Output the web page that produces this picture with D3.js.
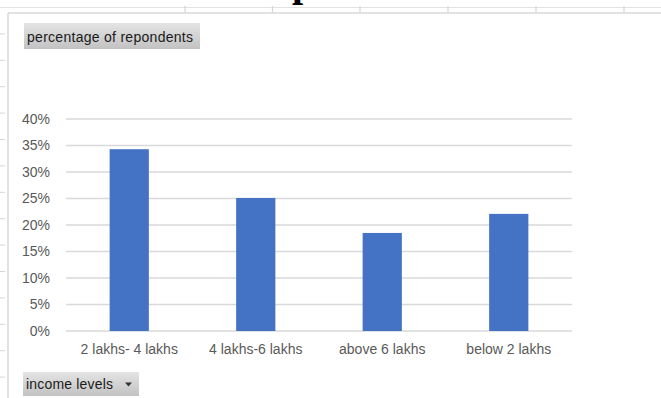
<!DOCTYPE html>
<html><head><meta charset="utf-8">
<script src="https://cdn.jsdelivr.net/npm/d3@7"></script>
<style>body{margin:0;background:#fff;overflow:hidden}svg{display:block}</style>
</head><body>
<script>
const categories = ["2 lakhs- 4 lakhs", "4 lakhs-6 lakhs", "above 6 lakhs", "below 2 lakhs"];
const values = [0.343, 0.251, 0.185, 0.221];
const yTicks = [0, 0.05, 0.10, 0.15, 0.20, 0.25, 0.30, 0.35, 0.40];
const valueFieldLabel = "percentage  of  repondents";
const axisFieldLabel = "income levels";

const W = 661, H = 398;
const svg = d3.select("body").append("svg").attr("width", W).attr("height", H);

const defs = svg.append("defs");
const g1 = defs.append("linearGradient").attr("id", "btn").attr("x1", 0).attr("x2", 0).attr("y1", 0).attr("y2", 1);
g1.append("stop").attr("offset", "0%").attr("stop-color", "#e4e4e4");
g1.append("stop").attr("offset", "100%").attr("stop-color", "#c2c2c2");

// spreadsheet background lines
svg.append("line").attr("x1", 0).attr("x2", W).attr("y1", 7.5).attr("y2", 7.5).attr("stroke", "#e2e2e2").attr("stroke-width", 1.2);
[185, 272.5, 360, 448, 536, 624].forEach(x => {
  svg.append("line").attr("x1", x).attr("x2", x).attr("y1", 6).attr("y2", 13).attr("stroke", "#d6d6d6").attr("stroke-width", 1.2);
});
d3.range(1, 15).forEach(k => {
  const y = 7.5 + k * 26.4;
  if (y > 13) svg.append("line").attr("x1", 0).attr("x2", 5).attr("y1", y).attr("y2", y).attr("stroke", "#d6d6d6").attr("stroke-width", 1);
});
// chart frame
svg.append("line").attr("x1", 8).attr("x2", W).attr("y1", 13).attr("y2", 13).attr("stroke", "#d9d9d9").attr("stroke-width", 1.5);
svg.append("line").attr("x1", 8).attr("x2", 8).attr("y1", 13).attr("y2", H).attr("stroke", "#d9d9d9").attr("stroke-width", 1.5);

// partially visible title above the chart
svg.append("text").attr("x", 292).attr("y", -4)
  .attr("font-family", "Liberation Serif, serif").attr("font-weight", "bold").attr("font-size", 40)
  .attr("fill", "#000").text("p");

// scales
const x = d3.scaleBand().domain(categories).range([66, 572]).padding(0);
const y = d3.scaleLinear().domain([0, 0.4]).range([331, 119]);
const barW = x.bandwidth() * 0.31;

// gridlines
svg.append("g").selectAll("line").data(yTicks).join("line")
  .attr("x1", 66).attr("x2", 572)
  .attr("y1", d => y(d)).attr("y2", d => y(d))
  .attr("stroke", "#d9d9d9").attr("stroke-width", 1.4);

// y axis labels
const yAxis = d3.axisLeft(y).tickValues(yTicks).tickFormat(d3.format(".0%")).tickSize(0).tickPadding(0);
const ya = svg.append("g").attr("transform", "translate(50,0)").call(yAxis);
ya.select(".domain").remove();
ya.selectAll("text").attr("font-family", "Liberation Sans, Arial, sans-serif").attr("font-size", 14).attr("fill", "#595959");

// bars
svg.append("g").selectAll("rect").data(values).join("rect")
  .attr("x", (d, i) => x(categories[i]) + x.bandwidth() / 2 - barW / 2)
  .attr("width", barW)
  .attr("y", d => y(d))
  .attr("height", d => y(0) - y(d))
  .attr("fill", "#4472c4");

// x axis labels
const xAxis = d3.axisBottom(x).tickSize(0).tickPadding(0);
const xa = svg.append("g").attr("transform", "translate(0,344)").call(xAxis);
xa.select(".domain").remove();
xa.selectAll("text").attr("font-family", "Liberation Sans, Arial, sans-serif").attr("font-size", 14).attr("fill", "#595959");

// field buttons
const b1 = svg.append("g");
b1.append("rect").attr("x", 24).attr("y", 23).attr("width", 176).attr("height", 26).attr("fill", "url(#btn)");
b1.append("text").attr("x", 27).attr("y", 42).attr("font-family", "Liberation Sans, Arial, sans-serif")
  .attr("font-size", 14).attr("fill", "#1a1a1a").attr("textLength", 166).attr("lengthAdjust", "spacing").text(valueFieldLabel);

const b2 = svg.append("g");
b2.append("rect").attr("x", 23).attr("y", 372).attr("width", 116).attr("height", 24).attr("fill", "url(#btn)");
b2.append("text").attr("x", 26).attr("y", 389).attr("font-family", "Liberation Sans, Arial, sans-serif")
  .attr("font-size", 14).attr("fill", "#1a1a1a").attr("textLength", 87).attr("lengthAdjust", "spacing").text(axisFieldLabel);
b2.append("path").attr("d", "M125,382.5 L132,382.5 L128.5,386.5 Z").attr("fill", "#333");
</script>
</body></html>
